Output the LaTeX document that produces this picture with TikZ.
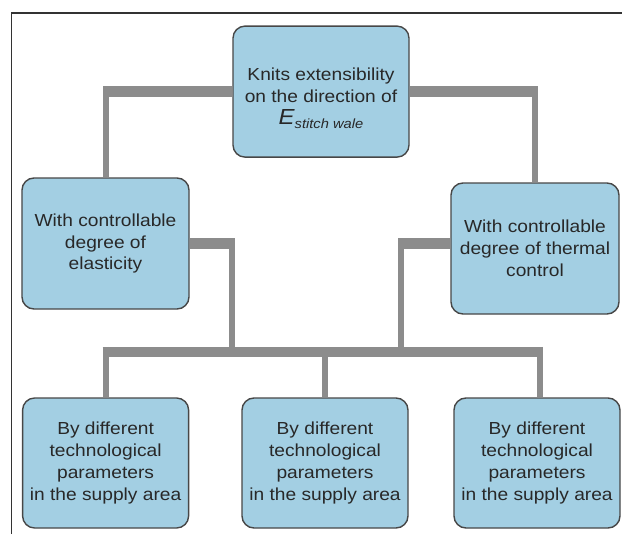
\documentclass[tikz,border=0pt]{standalone}
\usepackage{fontspec}
\setmainfont[FakeStretch=1.1]{Liberation Sans}
\usepackage{tikz}
\usetikzlibrary{calc}
\definecolor{boxblue}{RGB}{163,207,227}
\definecolor{linkgray}{RGB}{140,140,140}
\definecolor{inkgray}{RGB}{40,40,40}
\tikzset{
	blockbox/.style={draw=black!72, line width=0.35mm, fill=boxblue, rounded corners=3mm,
		align=center, inner sep=0pt, minimum height=3.275cm, text=inkgray,
		font=\fontsize{12.4}{15.6}\selectfont},
	hbar/.style={line width=2.6mm, color=linkgray},
	vbar/.style={line width=1.5mm, color=linkgray}
}

\begin{document}
\begin{tikzpicture}
			%%%%% START %%%%%
			
			\useasboundingbox (0, 0) rectangle (15.55, 13.35);
			\draw[line width=0.4mm, color=black!80] (0.29, 0) -- (0.29, 13.03) -- (15.6, 13.03);
			
			% boxes
			\node[blockbox, minimum width=4.4cm] (knits) at (8.025, 11.06)
				{\rule{0pt}{0.64cm}Knits extensibility\\on the direction of\\{\itshape\fontsize{15.5}{15.6}\selectfont E\raisebox{-0.35ex}{\fontsize{9.5}{10}\selectfont stitch wale}}};
			\node[blockbox, minimum width=4.175cm] (elastic) at (2.6375, 7.2625)
				{With controllable\\degree of\\elasticity};
			\node[blockbox, minimum width=4.2cm] (thermal) at (13.375, 7.1375)
				{With controllable\\degree of thermal\\control};
			
			\node[blockbox, minimum width=4.15cm, minimum height=3.25cm] (supplyA) at (2.64, 1.775)
				{By different\\technological\\parameters\\in the supply area};
			\node[blockbox, minimum width=4.15cm, minimum height=3.25cm] (supplyB) at (8.125, 1.775)
				{By different\\technological\\parameters\\in the supply area};
			\node[blockbox, minimum width=4.15cm, minimum height=3.25cm] (supplyC) at (13.425, 1.775)
				{By different\\technological\\parameters\\in the supply area};
			
			% bus and corners
			\coordinate (busL) at (2.64, 4.55);
			\coordinate (busR) at (13.5, 4.55);
			\coordinate (elasticDrop) at (5.8, 4.55);
			\coordinate (thermalDrop) at (10.025, 4.55);
			
			% top links
			\draw[vbar] ($(knits.west -| elastic.north)+(0, 0.13)$) -- (elastic.north);
			\draw[hbar] (knits.west) -- ($(knits.west -| elastic.north)+(-0.075, 0)$);
			\draw[vbar] ($(knits.east -| thermal.north)+(0, 0.13)$) -- (thermal.north);
			\draw[hbar] (knits.east) -- ($(knits.east -| thermal.north)+(0.075, 0)$);
			
			% middle links
			\draw[vbar] ($(elastic.east -| elasticDrop)+(0, 0.13)$) -- (elasticDrop);
			\draw[hbar] (elastic.east) -- ($(elastic.east -| elasticDrop)+(0.075, 0)$);
			\draw[vbar] ($(elastic.east -| thermalDrop)+(0, 0.13)$) -- (thermalDrop);
			\draw[hbar] (elastic.east -| thermal.west) -- ($(elastic.east -| thermalDrop)+(-0.075, 0)$);
			
			% bottom links
			\draw[vbar] ($(busL)+(0, 0.13)$) -- (supplyA.north);
			\draw[vbar] (busL -| supplyB.north) -- (supplyB.north);
			\draw[vbar] ($(busR)+(0, 0.13)$) -- (busR |- supplyC.north);
			\draw[hbar] ($(busL)+(-0.075, 0)$) -- ($(busR)+(0.075, 0)$);
			
			%%%%% END %%%%%
		\end{tikzpicture}
\end{document}
